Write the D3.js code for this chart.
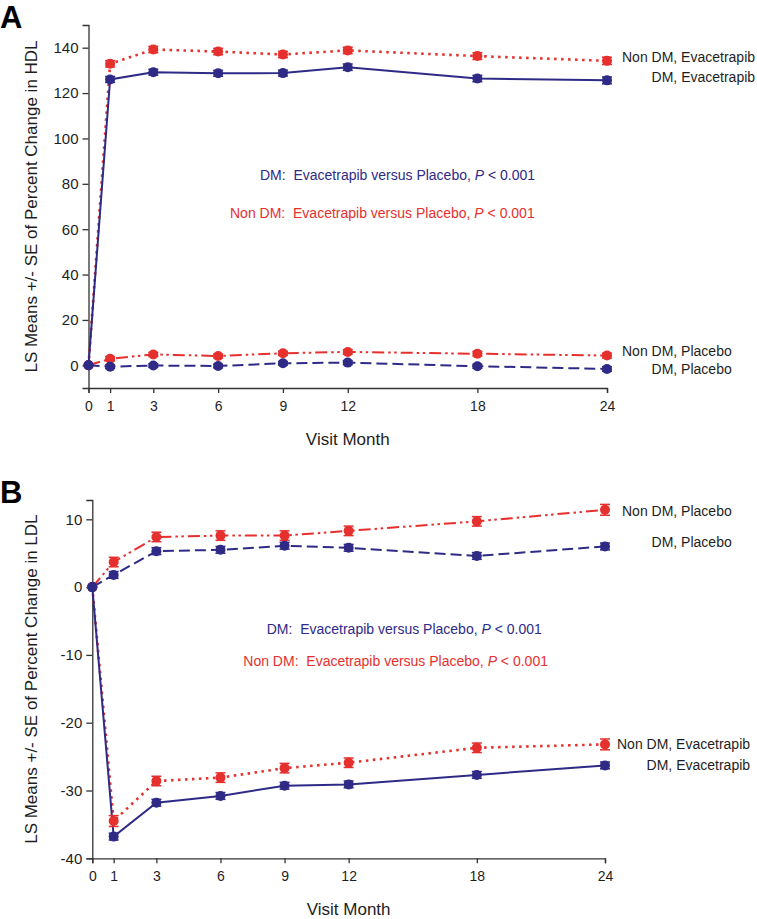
<!DOCTYPE html>
<html><head><meta charset="utf-8">
<script src="https://cdn.jsdelivr.net/npm/d3@7"></script>
<style>
html,body{margin:0;padding:0;background:#fff;}
svg{display:block;font-family:Arial,"Liberation Sans",sans-serif;}
</style></head>
<body>
<svg id="c" width="757" height="919"></svg>
<script>
// ---- data ----
const months = [0, 1, 3, 6, 9, 12, 18, 24];
const monthTicks = [0, 1, 3, 6, 9, 12, 18, 24];

// Panel A: HDL
const hdlNonDmEvac = [0, 132.9, 139.2, 138.3, 137.0, 138.8, 136.3, 134.2];
const hdlDmEvac    = [0, 126.0, 129.2, 128.7, 128.8, 131.4, 126.4, 125.6];
const hdlNonDmPlac = [0, 2.9, 4.8, 4.1, 5.3, 5.9, 5.1, 4.3];
const hdlDmPlac    = [0, -0.6, -0.1, -0.3, 0.9, 1.2, -0.4, -1.6];
const hdlNonDmEvacSe = [0, 1.4, 1.4, 1.4, 1.4, 1.4, 1.5, 1.6];
const hdlDmEvacSe    = [0, 1.3, 1.3, 1.3, 1.3, 1.4, 1.4, 1.5];
const hdlNonDmPlacSe = [0, 0.9, 0.9, 0.9, 0.9, 1.0, 1.0, 1.1];
const hdlDmPlacSe    = [0, 0.8, 0.8, 0.8, 0.8, 0.9, 0.9, 1.0];
const hdlYTicks = [0, 20, 40, 60, 80, 100, 120, 140];

// Panel B: LDL
const ldlNonDmPlac = [0, 3.7, 7.4, 7.6, 7.6, 8.3, 9.7, 11.4];
const ldlDmPlac    = [0, 1.8, 5.3, 5.5, 6.1, 5.8, 4.6, 6.0];
const ldlNonDmEvac = [0, -34.5, -28.6, -28.1, -26.7, -25.9, -23.7, -23.2];
const ldlDmEvac    = [0, -36.8, -31.8, -30.8, -29.3, -29.1, -27.7, -26.3];
const ldlNonDmPlacSe = [0, 0.7, 0.7, 0.7, 0.7, 0.7, 0.7, 0.8];
const ldlDmPlacSe    = [0, 0.5, 0.5, 0.5, 0.5, 0.5, 0.5, 0.5];
const ldlNonDmEvacSe = [0, 0.8, 0.7, 0.7, 0.7, 0.7, 0.7, 0.8];
const ldlDmEvacSe    = [0, 0.5, 0.5, 0.5, 0.5, 0.5, 0.5, 0.5];
const ldlYTicks = [-40, -30, -20, -10, 0, 10];

const seriesNames = ["Non DM, Evacetrapib", "DM, Evacetrapib", "Non DM, Placebo", "DM, Placebo"];
const annotDm = "DM:  Evacetrapib versus Placebo, ";
const annotNonDm = "Non DM:  Evacetrapib versus Placebo, ";

// ---- styles ----
const NAVY = "#2e2a86", RED = "#e5302e", TXT = "#1e1e1e";
const styleOf = {
  "Non DM, Evacetrapib": {color: RED, dash: "2.5,4.5", w: 2.6},
  "DM, Evacetrapib": {color: NAVY, dash: null, w: 2},
  "Non DM, Placebo": {color: RED, dash: "12,4,2.5,3.5,2.5,4", w: 2},
  "DM, Placebo": {color: NAVY, dash: "11,5", w: 2}
};

const svg = d3.select("#c");
const fmt = d => String(d);

function panel(cfg) {
  const g = svg.append("g");
  const x = d3.scaleLinear().domain([0, 24]).range(cfg.xRange);
  const y = d3.scaleLinear().domain(cfg.yDomain).range(cfg.yRange);

  // axes
  const yAx = g.append("g").attr("transform", `translate(${cfg.xRange[0]},0)`)
    .call(d3.axisLeft(y).tickValues(cfg.yTicks).tickSize(6).tickPadding(4).tickFormat(fmt));
  yAx.select(".domain").attr("stroke", "#333").attr("stroke-width", 1.3);
  yAx.selectAll(".tick line").attr("stroke", "#333").attr("stroke-width", 1.3);
  yAx.selectAll("text").attr("font-size", 15).attr("fill", TXT).attr("font-family", "Arial, 'Liberation Sans', sans-serif");

  const xAx = g.append("g").attr("transform", `translate(0,${cfg.yRange[0]})`)
    .call(d3.axisBottom(x).tickValues(monthTicks).tickSize(5).tickPadding(8).tickFormat(fmt));
  xAx.select(".domain").attr("stroke", "#333").attr("stroke-width", 1.3);
  xAx.selectAll(".tick line").attr("stroke", "#333").attr("stroke-width", 1.3);
  xAx.selectAll("text").attr("font-size", 14).attr("fill", TXT).attr("font-family", "Arial, 'Liberation Sans', sans-serif");

  // titles
  g.append("text").attr("x", (cfg.xRange[0] + cfg.xRange[1]) / 2).attr("y", cfg.xTitleY)
    .attr("text-anchor", "middle").attr("font-size", 17).attr("fill", TXT).text("Visit Month");
  const yc = (cfg.yRange[0] + cfg.yRange[1]) / 2;
  g.append("text").attr("transform", `translate(37,${yc}) rotate(-90)`)
    .attr("text-anchor", "middle").attr("font-size", 17).attr("fill", TXT).text(cfg.yTitle);
  g.append("text").attr("x", 0).attr("y", cfg.letterY).attr("font-size", 31).attr("font-weight", "bold")
    .attr("fill", "#000").text(cfg.letter);

  // lines
  const line = d3.line().x((d, i) => x(months[i])).y(d => y(d));
  const order = ["Non DM, Placebo", "Non DM, Evacetrapib", "DM, Placebo", "DM, Evacetrapib"];
  order.forEach(name => {
    const s = cfg.series[name], st = styleOf[name];
    g.append("path").datum(s.v).attr("d", line).attr("fill", "none")
      .attr("stroke", st.color).attr("stroke-width", st.w)
      .attr("stroke-dasharray", st.dash);
  });
  // error bars and markers
  order.forEach(name => {
    const s = cfg.series[name], st = styleOf[name];
    const eg = g.append("g");
    s.v.forEach((v, i) => {
      const se = s.se[i];
      if (se > 0) {
        const cx = x(months[i]);
        eg.append("line").attr("x1", cx).attr("x2", cx).attr("y1", y(v - se)).attr("y2", y(v + se))
          .attr("stroke", st.color).attr("stroke-width", 1.5);
        [v - se, v + se].forEach(e => eg.append("line").attr("x1", cx - 5).attr("x2", cx + 5)
          .attr("y1", y(e)).attr("y2", y(e)).attr("stroke", st.color).attr("stroke-width", 1.5));
      }
    });
    eg.selectAll("circle").data(s.v).join("circle")
      .attr("cx", (d, i) => x(months[i])).attr("cy", d => y(d)).attr("r", 5)
      .attr("fill", st.color);
  });

  // end labels
  cfg.labels.forEach(lb => {
    const t1 = g.append("text").attr("x", lb.x).attr("y", lb.y1).attr("font-size", 14).attr("fill", TXT)
      .text(lb.top);
    const w = t1.node().getComputedTextLength();
    g.append("text").attr("x", lb.x + w).attr("y", lb.y2).attr("text-anchor", "end")
      .attr("font-size", 14).attr("fill", TXT).text(lb.bottom);
  });

  // annotations
  cfg.annots.forEach(a => {
    const t = g.append("text").attr("x", a.x).attr("y", a.y).attr("font-size", 14).attr("fill", a.color)
      .attr("xml:space", "preserve").style("white-space", "pre");
    t.append("tspan").text(a.text);
    t.append("tspan").attr("font-style", "italic").text("P");
    t.append("tspan").text(" < 0.001");
  });
}

panel({
  letter: "A", letterY: 28,
  xRange: [88.5, 607], yDomain: [-10, 150], yRange: [388, 25],
  yTicks: hdlYTicks, xTitleY: 445,
  yTitle: "LS Means +/- SE of Percent Change in HDL",
  series: {
    "Non DM, Evacetrapib": {v: hdlNonDmEvac, se: hdlNonDmEvacSe},
    "DM, Evacetrapib": {v: hdlDmEvac, se: hdlDmEvacSe},
    "Non DM, Placebo": {v: hdlNonDmPlac, se: hdlNonDmPlacSe},
    "DM, Placebo": {v: hdlDmPlac, se: hdlDmPlacSe}
  },
  labels: [
    {x: 622, y1: 62, y2: 82, top: seriesNames[0], bottom: seriesNames[1]},
    {x: 622, y1: 356, y2: 374, top: seriesNames[2], bottom: seriesNames[3]}
  ],
  annots: [
    {x: 260, y: 180, color: NAVY, text: annotDm},
    {x: 230, y: 218, color: RED, text: annotNonDm}
  ]
});

panel({
  letter: "B", letterY: 503,
  xRange: [92.3, 605], yDomain: [-40, 12.85], yRange: [858.3, 500],
  yTicks: ldlYTicks, xTitleY: 915,
  yTitle: "LS Means +/- SE of Percent Change in LDL",
  series: {
    "Non DM, Evacetrapib": {v: ldlNonDmEvac, se: ldlNonDmEvacSe},
    "DM, Evacetrapib": {v: ldlDmEvac, se: ldlDmEvacSe},
    "Non DM, Placebo": {v: ldlNonDmPlac, se: ldlNonDmPlacSe},
    "DM, Placebo": {v: ldlDmPlac, se: ldlDmPlacSe}
  },
  labels: [
    {x: 622, y1: 516, y2: 547, top: seriesNames[2], bottom: seriesNames[3]},
    {x: 617, y1: 748.5, y2: 770, top: seriesNames[0], bottom: seriesNames[1]}
  ],
  annots: [
    {x: 266.7, y: 633.5, color: NAVY, text: annotDm},
    {x: 243.3, y: 666, color: RED, text: annotNonDm}
  ]
});
</script>
</body></html>
